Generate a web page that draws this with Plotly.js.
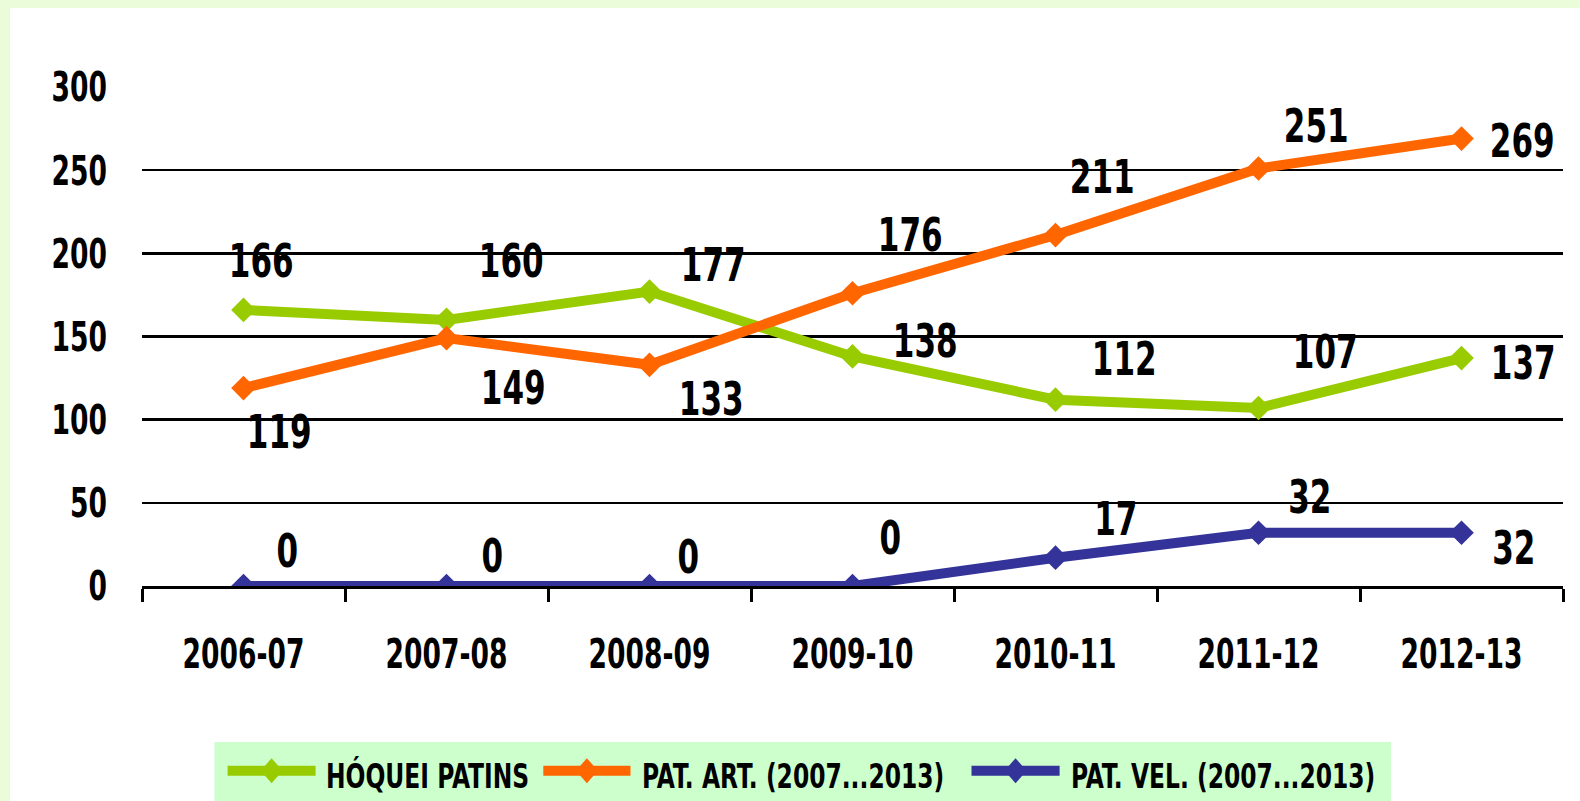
<!DOCTYPE html>
<html>
<head>
<meta charset="utf-8">
<script src="https://cdn.plot.ly/plotly-3.0.1.min.js"></script>
<style>
  html, body { margin: 0; padding: 0; width: 1580px; height: 801px; overflow: hidden; background: #ebfcdb; }
  #chart { position: absolute; left: 10px; top: 8px; width: 1570px; height: 793px; background: #ffffff; }
</style>
</head>
<body>
<div id="chart"></div>
<script>
// ---- data ----
const seasons = ["2006-07", "2007-08", "2008-09", "2009-10", "2010-11", "2011-12", "2012-13"];
const hoqueiPatins = [166, 160, 177, 138, 112, 107, 137];
const patArt = [119, 149, 133, 176, 211, 251, 269];
const patVel = [0, 0, 0, 0, 17, 32, 32];
const seriesNames = ["HÓQUEI PATINS", "PAT. ART. (2007...2013)", "PAT. VEL. (2007...2013)"];
const yTicks = [0, 50, 100, 150, 200, 250, 300];

// ---- style ----
const FONT = "'DejaVu Sans Condensed', 'DejaVu Sans', sans-serif";
// horizontal squeeze to mimic the condensed original typeface
const SQUEEZE_AXIS = 0.72, SQUEEZE_LABEL = 0.75, SQUEEZE_LEGEND = 0.765;
const colors = ["#99cc00", "#ff6600", "#333399"];
// label offsets in pixels (dx right, dy down) relative to each point, per series
const labelOffsets = [
  [[17,-49],[64,-59],[63,-27],[72,-15],[68,-41],[66,-56],[61,5]],
  [[35,44],[66,50],[61,34],[57,-58],[46,-58],[57,-43],[60,2]],
  [[44,-35],[46,-30],[39,-29],[38,-48],[60,-39],[51,-36],[52,15]]
];

// plot area geometry (page pixels)
const DIV_L = 10, DIV_T = 8, DIV_W = 1570, DIV_H = 793;
const PL = 142, PR = 1563, PT = 87, PB = 586;
const px = x => (x - PL) / (PR - PL);
const py = y => (PB - y) / (PB - PT);

const allSeries = [hoqueiPatins, patArt, patVel];
const traces = allSeries.map((vals, i) => ({
  type: "scatter",
  mode: "lines+markers",
  name: seriesNames[i],
  x: seasons,
  y: vals,
  line: { color: colors[i], width: 10 },
  marker: { color: colors[i], symbol: "diamond", size: 19 },
  showlegend: false,
  hoverinfo: "x+y+name"
}));

const annotations = [];
allSeries.forEach((vals, i) => {
  vals.forEach((v, j) => {
    annotations.push({
      x: seasons[j], y: v, xref: "x", yref: "y",
      text: String(v), showarrow: false,
      xanchor: "center", yanchor: "middle",
      xshift: labelOffsets[i][j][0], yshift: -labelOffsets[i][j][1],
      font: { family: FONT, size: 46, color: "#000000", weight: "bold" }
    });
  });
});

// custom legend (Excel style: long line sample with diamond)
const legendBox = { x0: 214.5, x1: 1391, y0: 742, y1: 812 };
const legendItems = [
  { lx0: 227.6, lx1: 315.6, tx: 324 },
  { lx0: 543.3, lx1: 630.5, tx: 640 },
  { lx0: 971.5, lx1: 1059.6, tx: 1069 }
];
const legendLineY = 770.7, legendTextY = 776;
const shapes = [{
  type: "rect", xref: "paper", yref: "paper", layer: "above",
  x0: px(legendBox.x0), x1: px(legendBox.x1), y0: py(legendBox.y1), y1: py(legendBox.y0),
  fillcolor: "#ccffcc", line: { width: 0 }
}];
legendItems.forEach((it, i) => {
  shapes.push({
    type: "line", xref: "paper", yref: "paper", layer: "above",
    x0: px(it.lx0), x1: px(it.lx1), y0: py(legendLineY), y1: py(legendLineY),
    line: { color: colors[i], width: 10 }
  });
  const cx = (it.lx0 + it.lx1) / 2, hw = 11, hh = 12.5;
  shapes.push({
    type: "path", xref: "paper", yref: "paper", layer: "above",
    path: `M${px(cx - hw)},${py(legendLineY)} L${px(cx)},${py(legendLineY - hh)} L${px(cx + hw)},${py(legendLineY)} L${px(cx)},${py(legendLineY + hh)} Z`,
    fillcolor: colors[i], line: { width: 0 }
  });
  annotations.push({
    xref: "paper", yref: "paper", x: px(it.tx), y: py(legendTextY),
    xanchor: "left", yanchor: "middle", align: "left", showarrow: false,
    text: seriesNames[i],
    font: { family: FONT, size: 34, color: "#000000", weight: "bold" }
  });
});

const layout = {
  width: DIV_W, height: DIV_H,
  margin: { l: PL - DIV_L, r: DIV_L + DIV_W - PR, t: PT - DIV_T, b: DIV_T + DIV_H - PB, pad: 0 },
  paper_bgcolor: "#ffffff",
  plot_bgcolor: "#ffffff",
  showlegend: false,
  font: { family: FONT, color: "#000000" },
  xaxis: {
    type: "category",
    categoryarray: seasons,
    range: [-0.5, seasons.length - 0.5],
    showgrid: false, zeroline: false,
    showline: true, linecolor: "#000000", linewidth: 3,
    ticks: "outside", tickson: "boundaries", ticklen: 13, tickwidth: 3, tickcolor: "#000000",
    ticklabelstandoff: 30,
    tickfont: { family: FONT, size: 41, color: "#000000", weight: "bold" },
    fixedrange: true
  },
  yaxis: {
    range: [0, 300],
    tickmode: "array", tickvals: yTicks, ticktext: yTicks.map(String),
    showgrid: true, gridcolor: "#000000", gridwidth: 2.5,
    zeroline: false, showline: false, ticks: "",
    ticklabelstandoff: 34,
    tickfont: { family: FONT, size: 41, color: "#000000", weight: "bold" },
    fixedrange: true
  },
  annotations: annotations,
  shapes: shapes
};

function squeezeText() {
  document.querySelectorAll("#chart svg text").forEach(t => {
    t.removeAttribute("textLength");
    const w = t.getComputedTextLength();
    if (w <= 0) return;
    let s = SQUEEZE_AXIS;
    if (t.classList.contains("annotation-text")) {
      s = seriesNames.includes(t.textContent) ? SQUEEZE_LEGEND : SQUEEZE_LABEL;
    }
    t.setAttribute("textLength", (w * s).toFixed(2));
    t.setAttribute("lengthAdjust", "spacingAndGlyphs");
  });
}

Plotly.newPlot("chart", traces, layout, { displayModeBar: false, staticPlot: true }).then(squeezeText);
</script>
</body>
</html>
